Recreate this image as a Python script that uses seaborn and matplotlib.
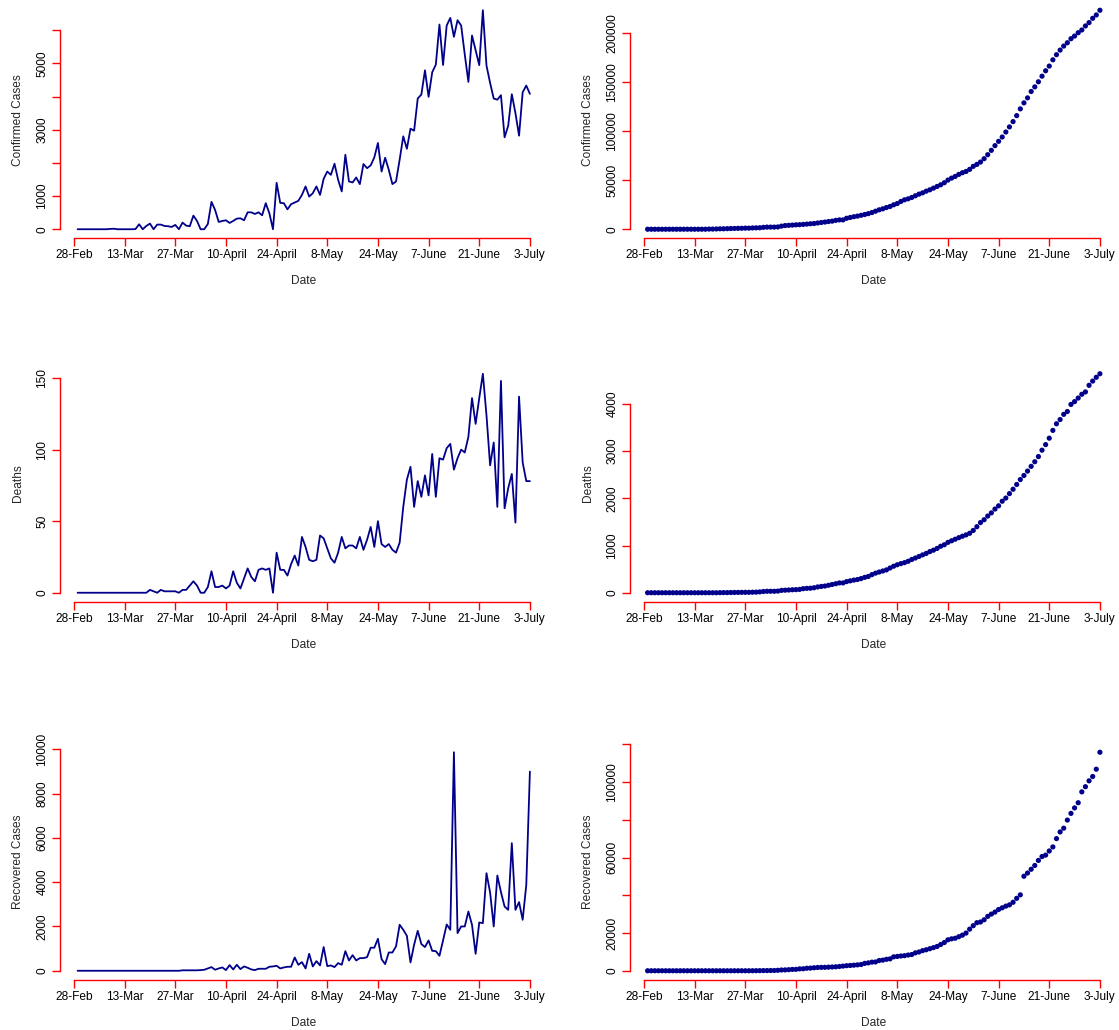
"""
plot.py - daily vs cumulative series (confirmed, deaths, recovered)
"""

import numpy as np
import matplotlib
matplotlib.use('Agg')
import matplotlib.pyplot as plt
import seaborn as sns

# ---- data (day 1 = 29-Feb ... day 126 = 3-July) ----
tick_days = [0, 14, 28, 42, 56, 70, 84, 98, 112, 126]
tick_labels = ['28-Feb', '13-Mar', '27-Mar', '10-April', '24-April',
               '8-May', '24-May', '7-June', '21-June', '3-July']

confirmed_daily = [
    0, 0, 0, 0, 0, 0, 0, 0, 0, 10, 15, 0, 0, 0, 0, 0, 5,
    150, 0, 100, 170, 0, 140, 140, 100, 90, 70, 130, 0, 200, 110, 90, 410, 250, 0, 0, 160,
    825, 580, 220, 250, 270, 190, 250, 320, 330, 270, 510, 510, 460, 510, 420, 785, 480, 0,
    1400, 795, 785, 600, 755, 805, 855, 1035, 1290, 985,
    1085, 1290, 1035, 1520, 1740, 1640, 1975, 1490, 1140, 2245,
    1440, 1410, 1560, 1360, 1965, 1840, 1925, 2165, 2600, 1740,
    2155, 1790, 1360, 1440, 2095, 2800, 2425, 3030, 2970, 3940,
    4060, 4790, 3990, 4730, 4960, 6170, 4950, 6140, 6370, 5800,
    6300, 6140, 5265, 4440, 5840, 5395, 4945, 6600, 4935, 4410,
    3940, 3905, 4040, 2770, 3120, 4070, 3500, 2820, 4130, 4330, 4080,
]

confirmed_total = [
    0, 0, 0, 0, 0, 0, 0, 0, 0, 10, 25, 25, 25, 25, 25, 25, 30,
    180, 180, 280, 450, 450, 590, 730, 830, 920, 990, 1120, 1120, 1320, 1430, 1520, 1930,
    2180, 2180, 2180, 2340,
    3170, 3750, 3970, 4220, 4490, 4680, 4930, 5250, 5580, 5850, 6360, 6870, 7330, 7840,
    8260, 9050, 9530, 9530,
    11200, 12000, 12800, 13400, 14200, 15000, 15900,
    17000, 18400, 19800, 20800, 22100, 23200, 24900, 26200, 28300, 30000,
    31000, 32400, 34100, 35800, 37100, 38800, 40200, 41900, 43600, 45300,
    47400, 50100, 52100, 53800, 55900, 57600, 58900, 61000, 64100, 66100,
    68500, 71900, 76000, 80400, 85200, 89600, 94000, 99100, 104300, 109700,
    115800, 122700, 128800, 133900, 140400, 145100, 150300, 156000, 161500, 166300,
    172700, 177900, 182600, 186700, 190100, 194200, 196900, 200300, 203100, 207200,
    210600, 215000, 218400, 223200,
]

deaths_daily = [
    0, 0, 0, 0, 0, 0, 0, 0, 0, 0, 0, 0, 0, 0, 0, 0, 0, 0, 0, 0,
    2, 1, 0, 2, 1, 1, 1, 1, 0, 2, 2, 5, 8, 5, 0, 0, 4, 15, 4, 4,
    5, 3, 5, 15, 7, 3, 10, 17, 11, 8, 16, 17, 16, 17, 0, 28, 16, 16, 12, 20,
    26, 19, 39, 32, 23,
    22, 23, 40, 38, 31, 24, 21, 28, 39, 31,
    33, 33, 31, 39, 30, 37, 46, 32, 50, 34,
    32, 34, 30, 28, 35, 60, 79, 88, 60, 78,
    67, 82, 68, 97, 67, 94, 93, 101, 104, 86,
    94, 100, 98, 109, 136, 118, 136, 153, 124, 89,
    105, 60, 148, 59, 73, 83, 49, 137, 91, 78, 78,
]

deaths_total = [
    0, 0, 0, 0, 0, 0, 0, 0, 0, 0, 0, 0, 0, 0, 0, 0, 0, 0, 0, 0,
    2, 3, 3, 5, 6, 7, 8, 9, 9, 11, 13, 18, 26, 31, 31, 31, 35, 50, 54, 58,
    63, 66, 71, 86, 93, 96, 106, 123, 134, 142, 158, 175, 191, 208, 208, 236, 252, 268, 280, 300,
    326, 345, 384, 416, 439,
    461, 484, 524, 562, 593, 617, 638, 666, 705, 736,
    769, 802, 833, 872, 902, 939, 985, 1017, 1067, 1101,
    1133, 1167, 1197, 1225, 1260, 1320, 1399, 1487, 1547, 1625,
    1692, 1774, 1842, 1939, 2006, 2100, 2193, 2294, 2398, 2484,
    2578, 2678, 2776, 2885, 3021, 3139, 3275, 3440, 3580, 3670,
    3780, 3840, 3990, 4050, 4125, 4205, 4255, 4395, 4485, 4565, 4640,
]

recovered_daily = [
    0, 0, 0, 0, 0, 0, 0, 0, 0, 0, 0, 0, 0, 0, 0, 0, 0, 0, 0, 0,
    0, 0, 0, 0, 0, 0, 0, 0, 0, 20, 20, 20, 20, 20, 30,
    45, 105, 165, 45, 105, 150, 30, 255, 60, 270,
    75, 195, 135, 60, 30, 90, 90, 90, 180, 195,
    225, 105, 150, 180, 180, 600, 270, 390, 105, 765,
    195, 435, 240, 1070, 210, 240, 165, 345, 270, 885,
    465, 705, 465, 570, 570, 615, 1040, 1040, 1445, 525,
    300, 825, 825, 1100, 2075, 1850, 1580, 375, 1175, 1805,
    1205, 1070, 1370, 900, 885, 675, 1370, 2090, 1850, 9865,
    1700, 2000, 2000, 2675, 2075, 765, 2180, 2150, 4405, 3535,
    2000, 4300, 3550, 2900, 2750, 5760, 2750, 3100, 2300, 3880,
    8990,
]

recovered_total = [
    0, 0, 0, 0, 0, 0, 0, 0, 0, 0, 0, 0, 0, 0, 0, 0, 0, 0, 0, 0,
    0, 0, 0, 0, 0, 0, 0, 0, 0, 20, 40, 60, 80, 100, 130,
    145, 250, 415, 460, 565, 715, 745, 1000, 1060, 1330,
    1405, 1600, 1735, 1795, 1825, 1915, 2005, 2095, 2275, 2470,
    2695, 2800, 2950, 3130, 3310, 3910, 4180, 4570, 4675, 5440,
    5635, 6070, 6310, 7380, 7590, 7830, 7995, 8340, 8610, 9495,
    9960, 10665, 11130, 11700, 12270, 12885, 13925, 14965, 16410, 16935,
    17235, 18060, 18885, 19985, 22060, 23910, 25490, 25865, 27040, 28845,
    30050, 31120, 32490, 33390, 34275, 34950, 36320, 38410, 40260, 50125,
    51825, 53825, 55825, 58500, 60575, 61340, 63520, 65670, 70075, 73610,
    75610, 79910, 83460, 86360, 89110, 94870, 97620, 100720, 103020, 106900,
    115890,
]

days = np.arange(1, len(confirmed_daily) + 1)

# panels: (series, kind, ylabel, y ticks, y tick labels shown, row, col)
panels = [
    (confirmed_daily, 'line', 'Confirmed Cases', [0, 1000, 2000, 3000, 4000, 5000, 6000],
     ['0', '1000', '', '3000', '', '5000', ''], 0, 0),
    (confirmed_total, 'point', 'Confirmed Cases', [0, 50000, 100000, 150000, 200000],
     ['0', '50000', '100000', '150000', '200000'], 0, 1),
    (deaths_daily, 'line', 'Deaths', [0, 50, 100, 150],
     ['0', '50', '100', '150'], 1, 0),
    (deaths_total, 'point', 'Deaths', [0, 1000, 2000, 3000, 4000],
     ['0', '1000', '2000', '3000', '4000'], 1, 1),
    (recovered_daily, 'line', 'Recovered Cases', [0, 2000, 4000, 6000, 8000, 10000],
     ['0', '2000', '4000', '6000', '8000', '10000'], 2, 0),
    (recovered_total, 'point', 'Recovered Cases', [0, 20000, 40000, 60000, 80000, 100000, 120000],
     ['0', '20000', '', '60000', '', '100000', ''], 2, 1),
]

sns.set_theme(style='white')
plt.rcParams['font.family'] = ['Liberation Sans', 'DejaVu Sans']

W, H = 1119, 1030
fig = plt.figure(figsize=(W / 100, H / 100), dpi=100)

# plot regions in pixels (top, bottom) per row, left per column
rows_px = [(1.5, 238.0), (365.0, 601.5), (743.5, 979.5)]
cols_px = [59.5, 629.5]
width_px = 488.5

navy = '#00008B'
axis_red = '#FF0000'

for series, kind, ylab, yt, ytl, r, c in panels:
    top, bot = rows_px[r]
    ax = fig.add_axes([cols_px[c] / W, 1 - bot / H, width_px / W, (bot - top) / H])
    vals = np.asarray(series, dtype=float)
    if kind == 'line':
        sns.lineplot(x=days, y=vals, ax=ax, color=navy, linewidth=1.3)
    else:
        sns.scatterplot(x=days, y=vals, ax=ax, color=navy, s=14,
                        edgecolor='none', linewidth=0)

    # R-style ranges: data range padded by 4%
    xr = days.max() - days.min()
    ax.set_xlim(days.min() - 0.04 * xr, days.max() + 0.04 * xr)
    ymax = vals.max()
    ax.set_ylim(-0.04 * ymax, ymax * 1.04)

    ax.set_xticks(tick_days)
    ax.set_xticklabels(tick_labels)
    ax.set_yticks(yt)
    ax.set_yticklabels(ytl, rotation=90, va='center')

    for side in ['top', 'right']:
        ax.spines[side].set_visible(False)
    for side in ['left', 'bottom']:
        ax.spines[side].set_visible(True)
        ax.spines[side].set_color(axis_red)
        ax.spines[side].set_linewidth(1.0)
    ax.spines['bottom'].set_bounds(tick_days[0], tick_days[-1])
    ax.spines['left'].set_bounds(yt[0], yt[-1])

    ax.tick_params(axis='both', direction='out', length=5.5, width=1.0,
                   color=axis_red, labelcolor='black', labelsize=8.6, pad=2.5)
    ax.tick_params(axis='x', bottom=True)
    ax.tick_params(axis='y', left=True)

    ax.set_xlabel('Date', fontsize=8.6, labelpad=10)
    ax.set_ylabel(ylab, fontsize=8.6, labelpad=9)
    ax.grid(False)
    ax.set_facecolor('white')

plt.savefig('out.png', dpi=100)
plt.close()
